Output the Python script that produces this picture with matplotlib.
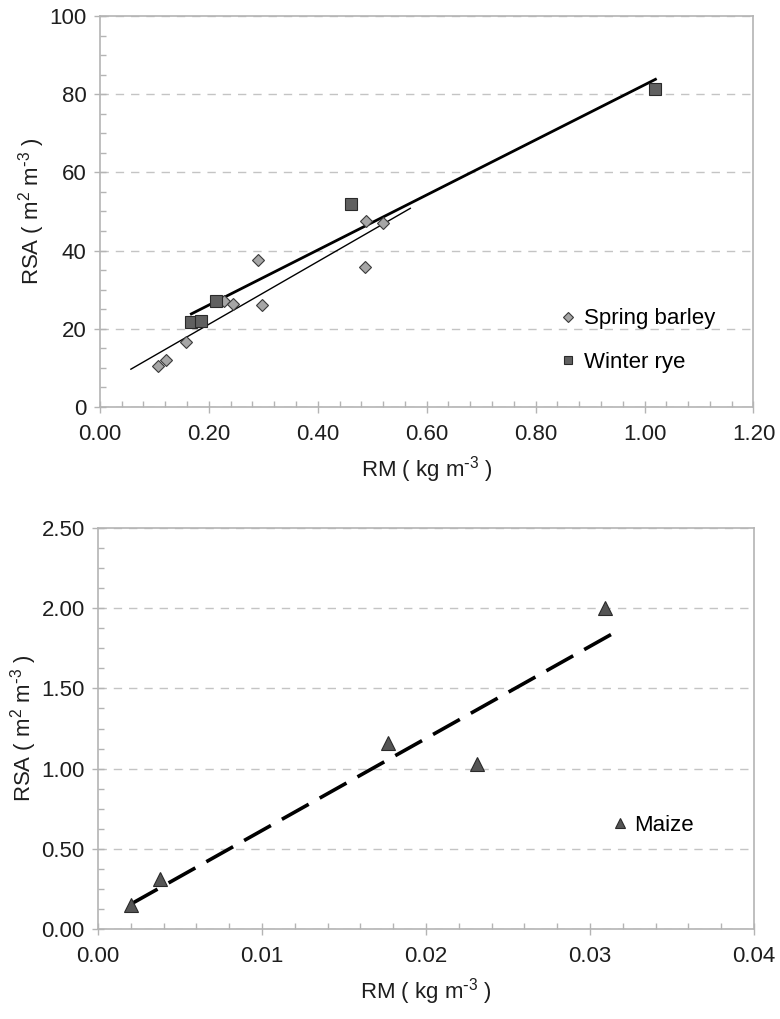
import numpy as np
import matplotlib
import matplotlib.pyplot as plt
from matplotlib.ticker import MultipleLocator, FormatStrFormatter

matplotlib.use("Agg")

plt.rcParams["font.family"] = ["Liberation Sans", "DejaVu Sans"]
plt.rcParams["mathtext.default"] = "regular"
plt.rcParams["axes.unicode_minus"] = False

# Spring barley (diamonds)
barley_rm = [0.107, 0.121, 0.159, 0.228, 0.245, 0.290, 0.298, 0.486, 0.489, 0.520]
barley_rsa = [10.6, 11.9, 16.5, 27.2, 26.4, 37.7, 26.2, 35.8, 47.6, 47.1]

# Winter rye (squares)
rye_rm = [0.168, 0.185, 0.213, 0.462, 1.020]
rye_rsa = [21.7, 22.0, 27.2, 51.9, 81.3]

# Maize (triangles)
maize_rm = [0.0020, 0.0038, 0.0177, 0.0231, 0.0309]
maize_rsa = [0.15, 0.31, 1.16, 1.03, 2.00]

SPINE = "#b4b4b4"
GRID = "#c4c4c4"
TXT = "#1e1e1e"
FS = 16
XLAB = r"RM ( kg m$^{\text{-}3}$ )"
YLAB = r"RSA ( m$^{2}$ m$^{\text{-}3}$ )"


def style_axes(ax, xmax, xmajor, xminor, ymax, ymajor, yminor, fmt_x, fmt_y):
    ax.set_xlim(0, xmax)
    ax.set_ylim(0, ymax)
    ax.xaxis.set_major_locator(MultipleLocator(xmajor))
    ax.xaxis.set_minor_locator(MultipleLocator(xminor))
    ax.yaxis.set_major_locator(MultipleLocator(ymajor))
    ax.yaxis.set_minor_locator(MultipleLocator(yminor))
    ax.xaxis.set_major_formatter(FormatStrFormatter(fmt_x))
    ax.yaxis.set_major_formatter(FormatStrFormatter(fmt_y))
    for s in ax.spines.values():
        s.set_color(SPINE)
        s.set_linewidth(1.2)
    ax.tick_params(which="major", direction="inout", length=9, width=1,
                   color=SPINE, labelsize=FS, labelcolor=TXT)
    ax.tick_params(axis="x", which="major", pad=8)
    ax.tick_params(axis="y", which="major", pad=5)
    ax.tick_params(which="minor", direction="in", length=4, width=1,
                   color=SPINE)
    ax.tick_params(top=False, right=False, which="both")
    ax.yaxis.grid(True, which="major", linestyle=(0, (6, 5)), color=GRID,
                  linewidth=1)
    ax.set_axisbelow(True)


def trend(ax, x, y, ext_lo=0.0, ext_hi=0.0, **kw):
    x = np.asarray(x)
    k, b = np.polyfit(x, y, 1)
    xs = np.array([x.min() - ext_lo, x.max() + ext_hi])
    ax.plot(xs, k * xs + b, **kw)


fig = plt.figure(figsize=(7.8, 10.19), dpi=100)
fig.patch.set_facecolor("white")

# --- top panel ---
ax1 = fig.add_axes([0.128, 0.6006, 0.838, 0.3837])
style_axes(ax1, 1.2, 0.2, 0.04, 100, 20, 5, "%.2f", "%d")
trend(ax1, barley_rm, barley_rsa, ext_lo=0.05, ext_hi=0.05,
      color="black", lw=1.0, zorder=2)
trend(ax1, rye_rm, rye_rsa, color="black", lw=2.0, zorder=2)
ax1.plot(barley_rm, barley_rsa, "D", ms=6.5, mfc="#a6a6a6", mec="#3a3a3a",
         mew=0.8, label="Spring barley", zorder=3)
ax1.plot(rye_rm, rye_rsa, "s", ms=8, mfc="#606060", mec="#2a2a2a",
         mew=0.8, label="Winter rye", zorder=3)
ax1.set_xlabel(XLAB, fontsize=FS, color=TXT, labelpad=6)
ax1.set_ylabel(YLAB, fontsize=FS, color=TXT, labelpad=2)
ax1.legend(loc="upper left", bbox_to_anchor=(0.69, 0.275), frameon=False,
           fontsize=FS, handlelength=0.7, handletextpad=0.4,
           labelspacing=1.0, markerscale=0.8, borderaxespad=0)

# --- bottom panel ---
ax2 = fig.add_axes([0.1256, 0.0883, 0.841, 0.3935])
style_axes(ax2, 0.04, 0.01, 0.002, 2.5, 0.5, 0.125, "%.2f", "%.2f")
trend(ax2, maize_rm, maize_rsa, ext_hi=0.0009, color="black", lw=2.6,
      linestyle=(0, (8.5, 3.5)), zorder=2)
ax2.plot(maize_rm, maize_rsa, "^", ms=9.5, mfc="#555555", mec="#2a2a2a",
         mew=0.8, label="Maize", zorder=3)
ax2.set_xlabel(XLAB, fontsize=FS, color=TXT, labelpad=6)
ax2.set_ylabel(YLAB, fontsize=FS, color=TXT, labelpad=2)
ax2.legend(loc="upper left", bbox_to_anchor=(0.77, 0.307), frameon=False,
           fontsize=FS, handlelength=0.7, handletextpad=0.3,
           markerscale=0.7, borderaxespad=0)

fig.savefig("out.png", dpi=100, facecolor="white")
